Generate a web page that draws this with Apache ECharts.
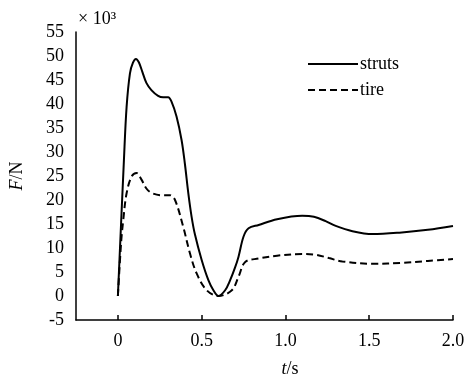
<!DOCTYPE html>
<html>
<head>
<meta charset="utf-8">
<script src="https://cdn.jsdelivr.net/npm/echarts@6/dist/echarts.min.js"></script>
<style>
  html, body { margin: 0; padding: 0; background: #fff; }
  #chart { width: 464px; height: 375px; }
</style>
</head>
<body>
<div id="chart"></div>
<script>
// time (s) and force (x10^3 N)
const strutsT = [0, 0.036, 0.052, 0.072, 0.09, 0.108, 0.125, 0.145, 0.17, 0.2, 0.24, 0.27, 0.3, 0.32, 0.35, 0.38, 0.40, 0.42, 0.44, 0.46, 0.50, 0.54, 0.57, 0.6, 0.64, 0.67, 0.70, 0.72, 0.75, 0.78, 0.84, 0.95, 1.1, 1.17, 1.24, 1.3, 1.4, 1.52, 1.68, 1.85, 2.0];
const strutsF = [0, 28.3, 39.4, 46.4, 48.6, 49.4, 48.7, 46.8, 44.4, 42.9, 41.7, 41.4, 41.4, 40.5, 37.4, 32.5, 27.5, 21.5, 16.5, 12.8, 7.5, 3.3, 1.2, 0, 1.2, 3.3, 6.0, 8.2, 12.4, 14.1, 14.8, 16.0, 16.7, 16.5, 15.6, 14.6, 13.5, 12.9, 13.2, 13.8, 14.6];

const tireT = [0, 0.02, 0.032, 0.052, 0.082, 0.112, 0.14, 0.17, 0.2, 0.26, 0.31, 0.341, 0.39, 0.43, 0.47, 0.53, 0.6, 0.68, 0.72, 0.76, 0.84, 0.95, 1.1, 1.18, 1.26, 1.34, 1.52, 1.7, 1.85, 2.0];
const tireF = [0, 11.5, 15.8, 21.4, 24.9, 25.6, 24.3, 22.4, 21.5, 21.0, 21.0, 20.0, 14.4, 8.9, 4.7, 1.2, 0, 1.2, 4.0, 7.1, 7.8, 8.4, 8.75, 8.6, 7.9, 7.2, 6.7, 6.9, 7.3, 7.7];

const xTicks = [0, 0.5, 1.0, 1.5, 2.0];
const seriesNames = ['struts', 'tire'];

const pair = (ts, vs) => ts.map((t, i) => [t, vs[i]]);
const font = '"Liberation Serif", "Times New Roman", serif';

const chart = echarts.init(document.getElementById('chart'), null, { renderer: 'canvas' });

chart.setOption({
  animation: false,
  backgroundColor: '#fff',
  textStyle: { fontFamily: font, color: '#000' },
  grid: { left: 76, right: 11, top: 32, bottom: 55, outerBoundsMode: 'none' },
  graphic: [{
    type: 'text',
    left: 78,
    top: 10,
    style: { text: '× 10³', font: '18px ' + font, fill: '#000' }
  }],
  legend: {
    orient: 'vertical',
    left: 302,
    top: 50,
    itemWidth: 50,
    itemHeight: 14,
    itemGap: 8,
    itemStyle: { opacity: 0 },
    textStyle: { fontSize: 18, fontFamily: font, color: '#000', padding: [0, 0, 0, -3] },
    data: seriesNames
  },
  xAxis: {
    type: 'value',
    min: -0.25,
    max: 2.0,
    name: '{i|t}/s',
    nameLocation: 'middle',
    nameGap: 40,
    nameTextStyle: {
      fontSize: 18, fontFamily: font, color: '#000', padding: [0, 0, 0, 51],
      rich: { i: { fontStyle: 'italic', fontSize: 18, fontFamily: font } }
    },
    splitLine: { show: false },
    axisLine: { onZero: false, lineStyle: { color: '#000', width: 1.5 } },
    axisTick: { inside: true, length: 5, customValues: xTicks, lineStyle: { color: '#000', width: 1.5 } },
    axisLabel: {
      customValues: xTicks,
      fontSize: 18, fontFamily: font, color: '#000', margin: 12,
      formatter: v => (v === 0 ? '0' : v.toFixed(1))
    }
  },
  yAxis: {
    type: 'value',
    min: -5,
    max: 55,
    interval: 5,
    name: '{i|F}/N',
    nameLocation: 'middle',
    nameGap: 50,
    nameTextStyle: {
      fontSize: 18, fontFamily: font, color: '#000',
      rich: { i: { fontStyle: 'italic', fontSize: 18, fontFamily: font } }
    },
    splitLine: { show: false },
    axisLine: { show: true, onZero: false, lineStyle: { color: '#000', width: 1.5 } },
    axisTick: { show: false },
    axisLabel: { fontSize: 18, fontFamily: font, color: '#000', margin: 12 }
  },
  series: [
    {
      name: seriesNames[0],
      type: 'line',
      smooth: 0.35,
      symbol: 'none',
      lineStyle: { color: '#000', width: 2 },
      itemStyle: { color: '#000' },
      data: pair(strutsT, strutsF)
    },
    {
      name: seriesNames[1],
      type: 'line',
      smooth: 0.35,
      symbol: 'none',
      lineStyle: { color: '#000', width: 2, type: [7, 4] },
      itemStyle: { color: '#000' },
      data: pair(tireT, tireF)
    }
  ]
});
</script>
</body>
</html>
